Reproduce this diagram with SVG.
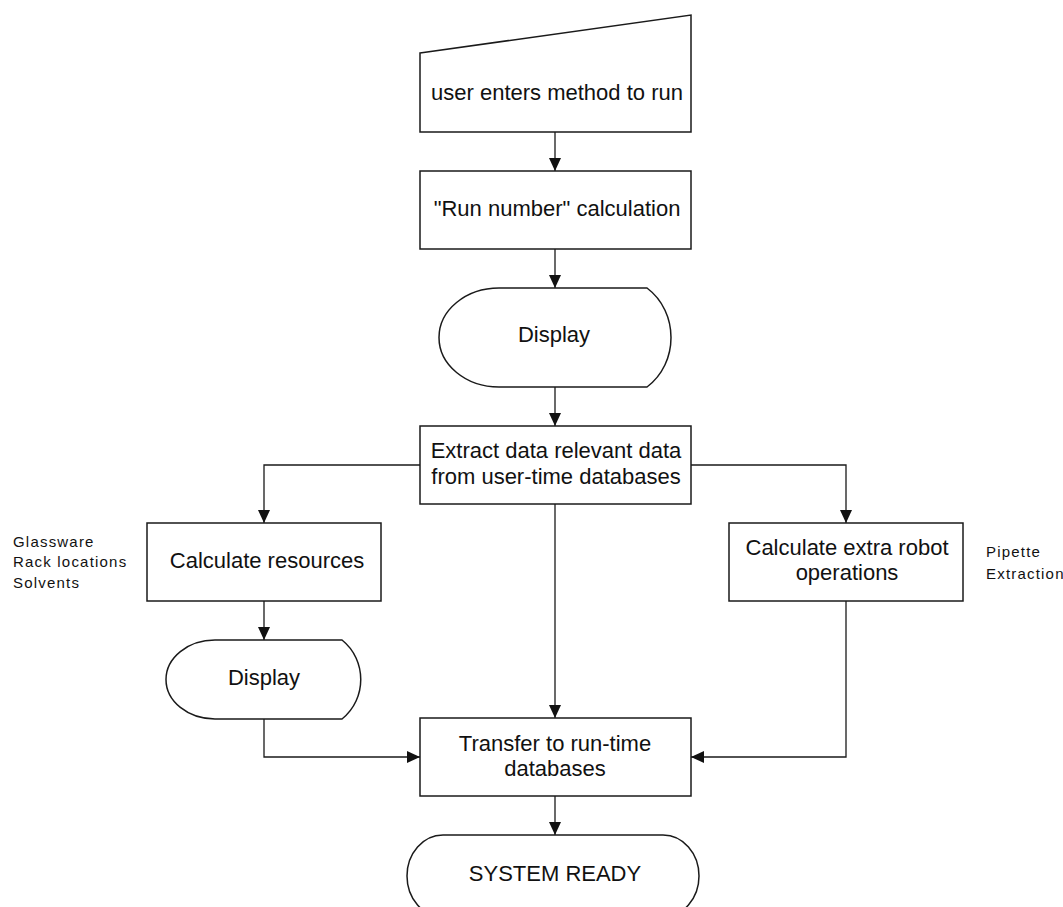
<svg xmlns="http://www.w3.org/2000/svg" width="1063" height="907" viewBox="0 0 1063 907">
<style>
.shape{fill:#fff;stroke:#1a1a1a;stroke-width:1.5}
.conn{fill:none;stroke:#1a1a1a;stroke-width:1.3}
.t{font-family:"Liberation Sans",Arial,sans-serif;font-size:22px;fill:#111;text-anchor:middle}
.side{font-family:"Liberation Sans",Arial,sans-serif;font-size:15px;letter-spacing:1.2px;fill:#111}
</style>
<defs>
<marker id="ah" markerUnits="userSpaceOnUse" markerWidth="13" markerHeight="12" refX="13" refY="6" orient="auto">
<path d="M0,0 L13,6 L0,12 Z" fill="#111"/>
</marker>
</defs>
<rect width="1063" height="907" fill="#fff"/>
<g id="connectors">
<path class="conn" d="M555,132 L555,171" marker-end="url(#ah)"/>
<path class="conn" d="M555,249 L555,288" marker-end="url(#ah)"/>
<path class="conn" d="M555,387 L555,426" marker-end="url(#ah)"/>
<path class="conn" d="M420,465 L264,465 L264,523" marker-end="url(#ah)"/>
<path class="conn" d="M691,465 L846,465 L846,523" marker-end="url(#ah)"/>
<path class="conn" d="M555,504 L555,718" marker-end="url(#ah)"/>
<path class="conn" d="M264,601 L264,640" marker-end="url(#ah)"/>
<path class="conn" d="M264,719 L264,757 L420,757" marker-end="url(#ah)"/>
<path class="conn" d="M846,601 L846,757 L691,757" marker-end="url(#ah)"/>
<path class="conn" d="M555,796 L555,835" marker-end="url(#ah)"/>
</g>
<g id="input">
<path class="shape" d="M420,53 L691,15 L691,132 L420,132 Z"/>
<text class="t" x="557" y="100">user enters method to run</text>
</g>
<g id="runnumber">
<rect class="shape" x="420" y="171" width="271" height="78"/>
<text class="t" x="557" y="216">"Run number" calculation</text>
</g>
<g id="display1">
<path class="shape" d="M499,288 L647,288 C679,312 679,363 647,387 L499,387 A60 49.5 0 0 1 499,288 Z"/>
<text class="t" x="554" y="342">Display</text>
</g>
<g id="extract">
<rect class="shape" x="420" y="426" width="271" height="78"/>
<text class="t" x="556" y="458">Extract data relevant data</text>
<text class="t" x="556" y="484">from user-time databases</text>
</g>
<g id="resources">
<rect class="shape" x="147" y="523" width="234" height="78"/>
<text class="t" x="267" y="568">Calculate resources</text>
<text class="side" x="13" y="547">Glassware</text>
<text class="side" x="13" y="567">Rack locations</text>
<text class="side" x="13" y="588">Solvents</text>
</g>
<g id="robot">
<rect class="shape" x="729" y="523" width="234" height="78"/>
<text class="t" x="847" y="555">Calculate extra robot</text>
<text class="t" x="847" y="580">operations</text>
<text class="side" x="986" y="557">Pipette</text>
<text class="side" x="986" y="579">Extraction</text>
</g>
<g id="display2">
<path class="shape" d="M215,640 L342,640 C367,660 367,699 342,719 L215,719 A49 39.5 0 0 1 215,640 Z"/>
<text class="t" x="264" y="685">Display</text>
</g>
<g id="transfer">
<rect class="shape" x="420" y="718" width="271" height="78"/>
<text class="t" x="555" y="751">Transfer to run-time</text>
<text class="t" x="555" y="776">databases</text>
</g>
<g id="ready">
<path class="shape" d="M443,835 L663,835 A36 41 0 0 1 699,876 A36 41 0 0 1 663,917 L443,917 A36 41 0 0 1 407,876 A36 41 0 0 1 443,835 Z"/>
<text class="t" x="555" y="881">SYSTEM READY</text>
</g>
</svg>
